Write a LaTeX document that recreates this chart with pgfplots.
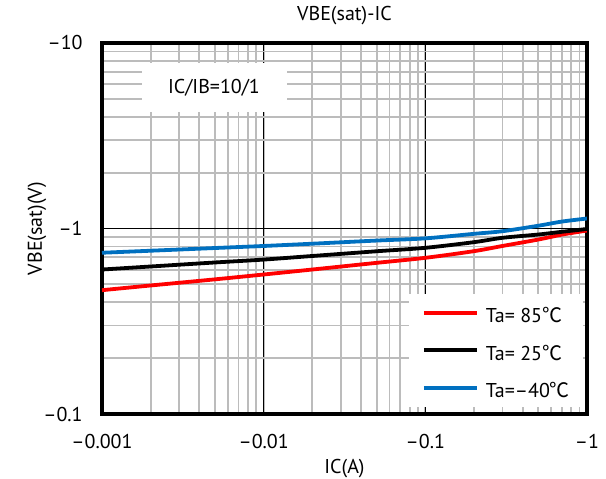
\documentclass[border=0pt]{standalone}
\usepackage{fontspec}
\setmainfont{PT Sans}
\newfontfamily\cjk{Noto Sans CJK JP}
\usepackage{pgfplots}
\pgfplotsset{compat=1.18}
\definecolor{tared}{RGB}{255,0,0}
\definecolor{tablue}{RGB}{0,112,192}
\definecolor{gridgray}{RGB}{188,188,188}

% |IC| in A, |VBE(sat)| in V (the axes are labelled negative)
\pgfplotstableread{
ic     v85    v25    vm40
0.001  0.465  0.601  0.740
0.002  0.493  0.624  0.759
0.005  0.532  0.656  0.785
0.01   0.565  0.680  0.805
0.02   0.601  0.711  0.828
0.05   0.653  0.754  0.861
0.1    0.695  0.787  0.885
0.2    0.755  0.844  0.936
0.3    0.805  0.891  0.967
0.5    0.872  0.928  1.035
0.7    0.927  0.960  1.090
1      0.975  0.994  1.132
}\vbedata

\begin{document}
\fontsize{20bp}{24bp}\selectfont
\begin{tikzpicture}
\begin{loglogaxis}[
    scale only axis,
    width=485bp, height=371bp,
    xmin=0.001, xmax=1, ymin=0.1, ymax=10,
    xtick={0.001,0.01,0.1,1},
    xticklabels={–0.001,–0.01,–0.1,–1},
    ytick={0.1,1,10},
    yticklabels={–0.1,–1,–10},
    grid=both,
    major grid style={black, line width=1bp},
    minor grid style={gridgray, line width=1.7bp},
    axis line style={line width=3.5bp},
    major tick length=0pt, minor tick length=0pt,
    tick label style={font=\fontsize{20bp}{24bp}\selectfont},
    xticklabel style={yshift=-13bp},
    yticklabel style={xshift=-12.5bp},
    title={VBE(sat)-IC},
    title style={at={(axis description cs:0.5,1.0458)}, anchor=base},
    xlabel={IC(A)},
    xlabel style={at={(axis description cs:0.5,-0.1617)}, anchor=base},
    ylabel={VBE(sat)(V)},
    ylabel style={at={(axis description cs:-0.1237,0.5)}, anchor=base, rotate=0},
    legend cell align=left,
    legend image code/.code={\draw[#1] (0bp,0bp) -- (53bp,0bp);},
    legend style={at={(axis description cs:0.992,0.019)}, anchor=south east,
        draw=none, fill=white, inner xsep=13bp, inner ysep=5bp,
        row sep=9.5bp, column sep=7bp,
        nodes={inner sep=0pt, text height=24bp, text depth=4bp},
        font=\fontsize{20bp}{24bp}\selectfont},
    every axis plot/.append style={line width=3.8bp, smooth},
]
\addplot[tared] table[x=ic, y=v85] {\vbedata};
\addplot[black] table[x=ic, y=v25] {\vbedata};
\addplot[tablue] table[x=ic, y=vm40] {\vbedata};
\legend{Ta= 85{\cjk ℃},Ta= 25{\cjk ℃},Ta=–40{\cjk ℃}}
\node[fill=white, minimum width=145bp, minimum height=49bp, inner sep=0pt]
    at (axis description cs:0.231,0.879) {IC/IB=10/1};
\coordinate (sw) at (rel axis cs:0,0);
\coordinate (ne) at (rel axis cs:1,1);
\end{loglogaxis}
\pgfresetboundingbox
\path ([shift={(-102bp,-65bp)}]sw) rectangle ([shift={(19bp,43bp)}]ne);
\end{tikzpicture}
\end{document}
